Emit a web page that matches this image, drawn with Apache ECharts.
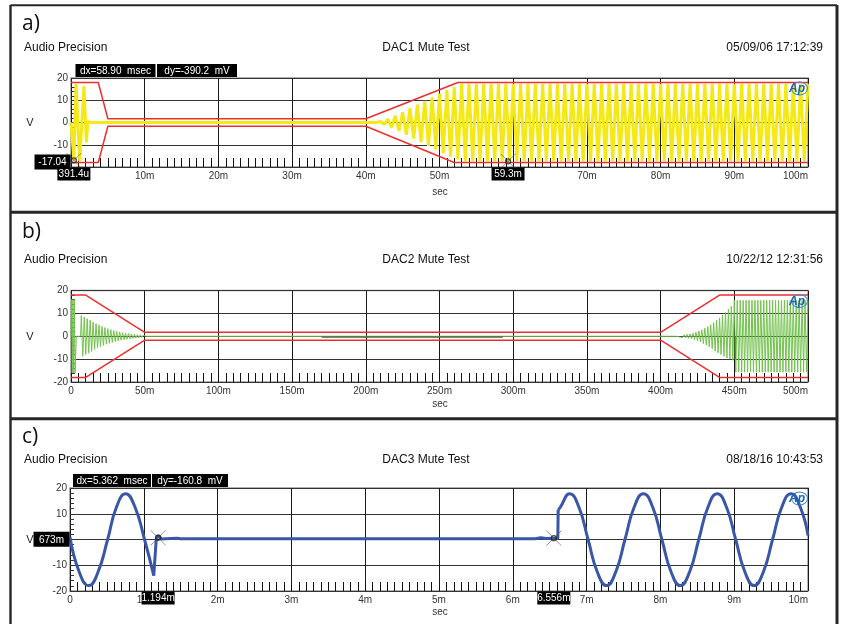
<!DOCTYPE html>
<html><head><meta charset="utf-8">
<script src="https://cdn.jsdelivr.net/npm/echarts@6/dist/echarts.min.js"></script>
<style>html,body{margin:0;padding:0;background:#fff}#c{width:842px;height:624px}</style>
</head><body><div id="c"></div><script>
// ---------- Panel texts ----------
const panelLetters = ['a)', 'b)', 'c)'];
const panelMakers = ['Audio Precision', 'Audio Precision', 'Audio Precision'];
const panelTitles = ['DAC1 Mute Test', 'DAC2 Mute Test', 'DAC3 Mute Test'];
const panelDates = ['05/09/06 17:12:39', '10/22/12 12:31:56', '08/18/16 10:43:53'];
const yTicks = [-20, -10, 0, 10, 20];
const xMaxes = [100, 500, 10];          // ms
const xIntervals = [10, 50, 1];         // ms

// ---------- Panel a (DAC1) : yellow trace, ms / V ----------
const aBurstT = [0, 0.39, 0.68, 1.18, 1.76, 2.09, 2.3, 2.6, 41.5];
const aBurstV = [0, -17.0, 17.4, -17.4, 16.4, -8.9, 0.6, 0, 0];
const aRampStart = 42, aRampStep = 0.5;
const aRampV = [0.5,-1,1.5,-2.2,3,-3.8,4.6,-5.5,6.4,-7.2,8,-8.8,9.7,-10.5,11.3,-12.1,13,-13.8,14.6,-15.3,16,-16.6];
const aSteadyStart = 53, aSteadyStep = 0.5;
const aSteadyV = [
17.4,-17.4,17.4,-17.4,17.4,-17.4,17.4,-17.4,17.4,-17.4,17.4,-17.4,17.4,-17.4,17.4,-17.4,17.4,-17.4,17.4,-17.4,
17.4,-17.4,17.4,-17.4,17.4,-17.4,17.4,-17.4,17.4,-17.4,17.4,-17.4,17.4,-17.4,17.4,-17.4,17.4,-17.4,17.4,-17.4,
17.4,-17.4,17.4,-17.4,17.4,-17.4,17.4,-17.4,17.4,-17.4,17.4,-17.4,17.4,-17.4,17.4,-17.4,17.4,-17.4,17.4,-17.4,
17.4,-17.4,17.4,-17.4,17.4,-17.4,17.4,-17.4,17.4,-17.4,17.4,-17.4,17.4,-17.4,17.4,-17.4,17.4,-17.4,17.4,-17.4,
17.4,-17.4,17.4,-17.4,17.4,-17.4,17.4,-17.4,17.4,-17.4,17.4,-17.4,17.4,-17.4,17.4];
const aUpperT = [0, 3.7, 5, 40, 52.5, 100];
const aUpperV = [18, 18, 1.7, 1.7, 18, 18];
const aLowerT = [0, 3.7, 5, 40, 52, 100];
const aLowerV = [-18, -18, -1.7, -1.7, -18, -18];
const aCursorT = [0.3914, 59.3];
const aCursorV = [-17.04, -17.43];
const aCursorXLabels = ['391.4u', '59.3m'];
const aCursorYLabel = '-17.04';
const aReadouts = ['dx=58.90  msec', 'dy=-390.2  mV'];

// ---------- Panel b (DAC2) : green trace ----------
const bBurstT = [0, 0.3, 0.8, 1.3, 1.8, 2.3, 2.8, 3.6, 6.5];
const bBurstV = [0, 16, -16, 16, -16, 16, -16, 0, 0];
const bDecayStart = 7, bDecayStep = 1;
const bDecayV = [9.0,-8.7,8.4,-8.0,7.7,-7.4,7.0,-6.6,6.2,-5.8,5.5,-5.2,4.9,-4.6,4.3,-4.0,3.8,-3.5,3.3,-3.1,2.9,-2.7,2.5,-2.3,2.2,-2.0,1.9,-1.7,1.6,-1.5,1.4,-1.3,1.2,-1.1,1.0,-0.95,0.9,-0.8,0.7,-0.65,0.6,-0.5,0.45,-0.4];
const bQuietT = [51, 411];
const bQuietV = [0, 0];
const bRampStart = 412, bRampStep = 1;
const bRampV = [0.3,-0.35,0.45,-0.5,0.6,-0.7,0.8,-0.9,1.0,-1.15,1.3,-1.5,1.75,-2.0,2.3,-2.5,2.8,-3.2,3.5,-3.8,4.2,-4.6,5.0,-5.5,6.0,-6.5,7.0,-7.3,8.0,-8.0,9.2,-8.8,10.4,-9.5,11.8,-10.0,13.2,-10.5];
const bSteadyStart = 450, bSteadyStep = 1;
const bSteadyV = [
15.7,-15.7,15.7,-15.7,15.7,-15.7,15.7,-15.7,15.7,-15.7,15.7,-15.7,15.7,-15.7,15.7,-15.7,15.7,-15.7,15.7,-15.7,
15.7,-15.7,15.7,-15.7,15.7,-15.7,15.7,-15.7,15.7,-15.7,15.7,-15.7,15.7,-15.7,15.7,-15.7,15.7,-15.7,15.7,-15.7,
15.7,-15.7,15.7,-15.7,15.7,-15.7,15.7,-15.7,15.7,-15.7,15.7];
const bDarkT = [170, 293];
const bDarkV = [-0.4, -0.4];
const bStrokeT = [450.5, 450.5];
const bStrokeV = [0, -10];
const bLimitT = [0, 10, 50, 400, 440, 500];
const bUpperV = [18, 18, 1.7, 1.7, 18, 18];
const bLowerV = [-18, -18, -1.7, -1.7, -18, -18];

// ---------- Panel c (DAC3) : blue trace ----------
const cOn1T = [0, 0.125, 0.255, 0.38, 0.51, 0.63, 0.755, 0.88, 1.01, 1.135];
const cOn1V = [1.0, -12.6, -17.9, -12.6, 0, 12.6, 17.8, 12.6, 0, -14];
const cOffT = [1.135, 1.17, 1.2, 1.24, 1.3, 1.45, 1.5, 6.3, 6.38, 6.45, 6.556, 6.61, 6.615];
const cOffV = [-14, 0.6, 1.5, 0.2, 0.3, 0.5, 0.3, 0.3, 0.7, 0.4, 0.5, 0.5, 11.5];
const cOn2T = [6.615, 6.645, 6.77, 6.895, 7.02, 7.145, 7.27, 7.395, 7.52, 7.645, 7.77, 7.895, 8.02, 8.145, 8.27, 8.395, 8.52, 8.645, 8.77, 8.895, 9.02, 9.145, 9.27, 9.395, 9.52, 9.645, 9.77, 9.895, 10.0];
const cOn2V = [11.5, 12.6, 17.8, 12.6, 0, -12.6, -17.9, -12.6, 0, 12.6, 17.8, 12.6, 0, -12.6, -17.9, -12.6, 0, 12.6, 17.8, 12.6, 0, -12.6, -17.9, -12.6, 0, 12.6, 17.8, 12.6, 1.5];
const cCursorT = [1.194, 6.556];
const cCursorV = [0.673, 0.512];
const cCursorXLabels = ['1.194m', '6.556m'];
const cCursorYLabel = '673m';
const cReadouts = ['dx=5.362  msec', 'dy=-160.8  mV'];

// ---------- helpers ----------
const zip = (T, V) => T.map((t, i) => [t, V[i]]);
const seq = (s, d, V) => V.map((v, i) => [s + i * d, v]);

const grids = [
  {left: 71, right: 34, top: 78, height: 89},
  {left: 71, right: 34, top: 290.5, height: 91.5},
  {left: 70, right: 34, top: 488, height: 103}
];
const FONT = 'Liberation Sans';

function xAx(i) {
  return {
    type: 'value', gridIndex: i, min: 0, max: xMaxes[i], interval: xIntervals[i],
    axisLine: {show: false, onZero: false},
    axisTick: {show: true, inside: true, length: 9, lineStyle: {color: '#111'}},
    minorTick: {show: true, splitNumber: 10, length: 9, lineStyle: {color: '#111', width: 1}},
    splitLine: {show: true, lineStyle: {color: '#1a1a1a', width: 1}},
    axisLabel: {color: '#333', fontSize: 10, fontFamily: FONT, margin: 4, alignMaxLabel: 'right',
      formatter: v => v === 0 ? '0' : (v + 'm')}
  };
}
function yAx(i) {
  return {
    type: 'value', gridIndex: i, min: yTicks[0], max: yTicks[yTicks.length - 1], interval: 10,
    axisLine: {show: false, onZero: false},
    axisTick: {show: true, inside: true, length: 4, lineStyle: {color: '#333'}},
    minorTick: {show: true, splitNumber: 5, length: 4, lineStyle: {color: '#333', width: 1}},
    splitLine: {show: true, lineStyle: {color: '#333', width: 1}},
    axisLabel: {color: '#333', fontSize: 10, fontFamily: FONT, margin: 3}
  };
}
function line(i, data, color, width, extra) {
  return Object.assign({type: 'line', xAxisIndex: i, yAxisIndex: i, data, showSymbol: false,
    symbol: 'none', animation: false, silent: true, lineStyle: {color, width}}, extra || {});
}
const XPATH = 'path://M0 0L10 10M10 0L0 10';
function cursors(i, T, V) {
  return [
    {type: 'scatter', xAxisIndex: i, yAxisIndex: i, data: zip(T, V), symbol: XPATH, symbolSize: 15,
      itemStyle: {color: 'rgba(0,0,0,0)', borderColor: '#555', borderWidth: 0.8}, animation: false, silent: true, z: 10},
    {type: 'scatter', xAxisIndex: i, yAxisIndex: i, data: zip(T, V), symbol: 'circle', symbolSize: 5,
      itemStyle: {color: 'rgba(0,0,0,0)', borderColor: '#222', borderWidth: 1.3}, animation: false, silent: true, z: 10}
  ];
}

const yellow = '#f4e916', red = '#ec2f2f', green = '#72c24c', blue = '#3a56a6';
const aData = [].concat(zip(aBurstT, aBurstV), seq(aRampStart, aRampStep, aRampV), seq(aSteadyStart, aSteadyStep, aSteadyV));
const bData = [].concat(zip(bBurstT, bBurstV), seq(bDecayStart, bDecayStep, bDecayV), zip(bQuietT, bQuietV),
  seq(bRampStart, bRampStep, bRampV), seq(bSteadyStart, bSteadyStep, bSteadyV));

const series = [
  line(0, aData, yellow, 3),
  line(0, zip(aUpperT, aUpperV), red, 1.5),
  line(0, zip(aLowerT, aLowerV), red, 1.5),
  ...cursors(0, aCursorT, aCursorV),
  line(1, bData, green, 1),
  line(1, zip(bDarkT, bDarkV), '#4c5f47', 1.3),
  line(1, zip(bStrokeT, bStrokeV), '#3f7a2a', 1.3),
  line(1, zip(bLimitT, bUpperV), red, 1.5),
  line(1, zip(bLimitT, bLowerV), red, 1.5),
  line(2, zip(cOn1T, cOn1V), blue, 3, {smooth: 0.5}),
  line(2, zip(cOffT, cOffV), blue, 3),
  line(2, zip(cOn2T, cOn2V), blue, 3, {smooth: 0.5}),
  ...cursors(2, cCursorT, cCursorV)
];

const chart = echarts.init(document.getElementById('c'), null, {renderer: 'canvas'});
chart.setOption({
  animation: false,
  backgroundColor: '#fff',
  grid: grids.map(g => Object.assign({show: true, borderColor: '#9a9a9a', borderWidth: 1.5, backgroundColor: 'rgba(0,0,0,0)'}, g)),
  xAxis: [0, 1, 2].map(xAx),
  yAxis: [0, 1, 2].map(yAx),
  series
});

// ---------- annotations ----------
const G = [];
function txt(x, y, text, font, fill, align) {
  G.push({type: 'text', x, y, z: 100, silent: true,
    style: {text, font, fill: fill || '#000', align: align || 'left', verticalAlign: 'middle'}});
}
function box(cx, cy, w, h, text) {
  G.push({type: 'rect', z: 99, silent: true, shape: {x: cx - w / 2, y: cy - h / 2, width: w, height: h}, style: {fill: '#000'}});
  txt(cx, cy + 0.5, text, '10px ' + FONT, '#fff', 'center');
}
const headerY = [[24, 48], [232, 260], [437, 460]];
const vY = [123, 336.5, 540];
const secY = [192, 404.5, 612];
for (let i = 0; i < 3; i++) {
  txt(22, headerY[i][0], panelLetters[i], '21px "Open Sans"', '#111');
  txt(24, headerY[i][1], panelMakers[i], '12px ' + FONT, '#111');
  txt(426, headerY[i][1], panelTitles[i], '12px ' + FONT, '#111', 'center');
  txt(823, headerY[i][1], panelDates[i], '12px ' + FONT, '#111', 'right');
  txt(30, vY[i], 'V', '11px ' + FONT, '#222', 'center');
  txt(440, secY[i], 'sec', '10px ' + FONT, '#333', 'center');
  // AP logo at the top right of each plot
  const top = grids[i].top;
  G.push({type: 'ellipse', z: 98, silent: true, shape: {cx: 799.5, cy: top + 10.5, rx: 8, ry: 6.5},
    style: {fill: 'none', stroke: '#3d8fd1', lineWidth: 1.1}});
  txt(797, top + 11, 'Ap', 'italic bold 12px ' + FONT, '#1c66b0', 'center');
}
// panel frames
const frame = '#262626';
G.push({type: 'line', z: 90, silent: true, shape: {x1: 10.5, y1: 5.2, x2: 837, y2: 5.2}, style: {stroke: frame, lineWidth: 2}});
G.push({type: 'line', z: 90, silent: true, shape: {x1: 10.5, y1: 5, x2: 10.5, y2: 624}, style: {stroke: frame, lineWidth: 2.4}});
G.push({type: 'line', z: 90, silent: true, shape: {x1: 837, y1: 5, x2: 837, y2: 624}, style: {stroke: frame, lineWidth: 3}});
G.push({type: 'line', z: 90, silent: true, shape: {x1: 10, y1: 212.3, x2: 838, y2: 212.3}, style: {stroke: frame, lineWidth: 3}});
G.push({type: 'line', z: 90, silent: true, shape: {x1: 10, y1: 418.7, x2: 838, y2: 418.7}, style: {stroke: frame, lineWidth: 3}});

// cursor readouts and axis value boxes
function cursorBoxes(i, T, V, xLabels, yLabel, readouts, roLeft, roW) {
  const bottom = chart.convertToPixel({yAxisIndex: i}, -20);
  const left = chart.convertToPixel({xAxisIndex: i}, 0);
  const top = grids[i].top;
  T.forEach((t, k) => {
    const px = chart.convertToPixel({xAxisIndex: i}, t);
    box(px, bottom + 7, 33, 13, xLabels[k]);
  });
  const py = chart.convertToPixel({yAxisIndex: i}, V[0]);
  box(left - 18.5, py + 1.5, 36, 15, yLabel);
  box(roLeft[0] + roW[0] / 2, top - 7.5, roW[0], 13, readouts[0]);
  box(roLeft[1] + roW[1] / 2, top - 7.5, roW[1], 13, readouts[1]);
}
cursorBoxes(0, aCursorT, aCursorV, aCursorXLabels, aCursorYLabel, aReadouts, [75.5, 157], [80, 80]);
cursorBoxes(2, cCursorT, cCursorV, cCursorXLabels, cCursorYLabel, cReadouts, [73, 152], [78, 76]);

chart.setOption({graphic: G});
</script></body></html>
